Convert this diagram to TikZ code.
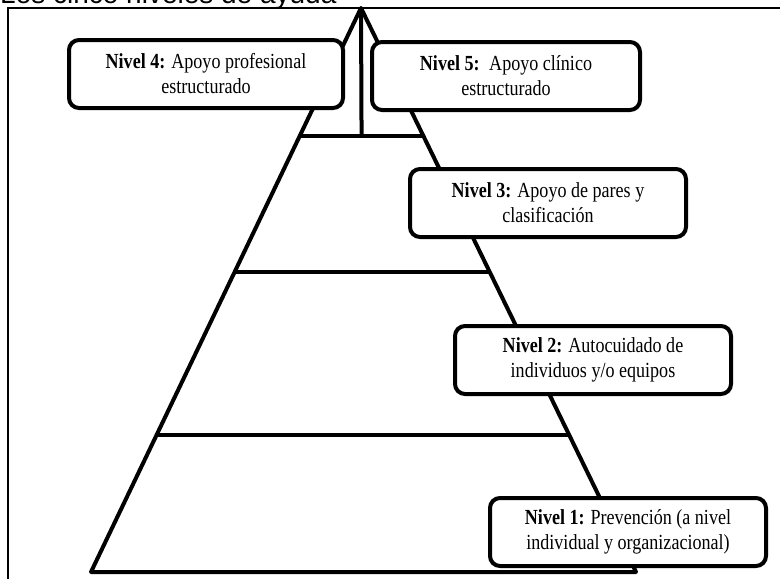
\documentclass[tikz,border=0pt]{standalone}
\usepackage{fontspec}
\setmainfont{Liberation Serif}
\newfontfamily\boxfont[FakeStretch=0.84]{Liberation Serif}
\newfontfamily\titlefont{Liberation Sans}
\usetikzlibrary{positioning,calc}
\tikzset{x=1pt, y=-1pt,
nivel/.style ={rectangle, draw, fill=white, rounded corners=10pt, line width=4pt,
  align=center, minimum width=274pt, minimum height=68pt, inner sep=2pt,
  font=\boxfont\fontsize{21.5}{25}\selectfont},
piso/.style ={line width=4pt, line join=round},
marco/.style ={line width=2pt}}

\begin{document}
\begin{tikzpicture}
\useasboundingbox (0,0) rectangle (780,579);
% titulo y marco
\node[anchor=base west, inner sep=0pt, font=\titlefont\fontsize{28}{30}\selectfont] (T) at (0,3) {Los cinco niveles de ayuda};
\draw[marco] (8,579) -- (8,8) -- (780,8);
% piramide
\coordinate (P) at (361,8);
\coordinate (L) at (91,572);
\coordinate (R) at (636,572);
\draw[piso] (L) -- (P) -- (R) -- cycle;
\foreach \t/\n in {0.227/a, 0.468/b, 0.757/c}
  \draw[piso] ($(P)!\t!(L)$) coordinate (\n l) -- ($(P)!\t!(R)$) coordinate (\n r);
\draw[piso] (P) -- ($(al)!0.5!(ar)$);
% niveles
\node[nivel] (N4) at (206,74) {\textbf{Nivel 4:} Apoyo profesional\\ estructurado};
\node[nivel, minimum width=268pt] (N5) at (506,76) {\textbf{Nivel 5:}\, Apoyo clínico\\ estructurado};
\node[nivel, minimum width=276pt] (N3) at (548,203) {\textbf{Nivel 3:} Apoyo de pares y\\ clasificación};
\node[nivel, minimum width=276pt] (N2) at (593,360) {\textbf{Nivel 2:} Autocuidado de\\ individuos y/o equipos};
\node[nivel, minimum width=276pt] (N1) at (628,532) {\textbf{Nivel 1:} Prevención (a nivel\\ individual y organizacional)};
\end{tikzpicture}
\end{document}
